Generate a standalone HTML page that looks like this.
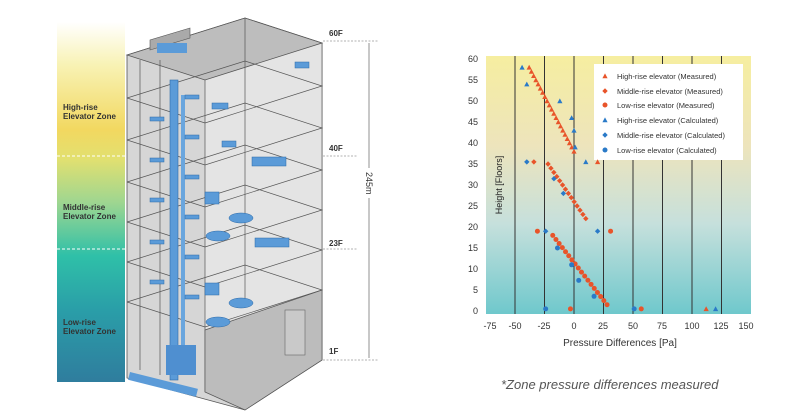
<!DOCTYPE html>
<html><head><meta charset="utf-8"><style>
html,body{margin:0;padding:0;background:#fff;width:800px;height:420px;overflow:hidden;font-family:"Liberation Sans",sans-serif}
</style></head><body>
<svg width="800" height="420" viewBox="0 0 800 420" xmlns="http://www.w3.org/2000/svg" font-family="Liberation Sans, sans-serif">
<defs>
<linearGradient id="zone" x1="0" y1="0" x2="0" y2="1">
<stop offset="0" stop-color="#ffffff"/><stop offset="0.12" stop-color="#f8f2b4"/><stop offset="0.3" stop-color="#f2d860"/>
<stop offset="0.38" stop-color="#e2e070"/><stop offset="0.5" stop-color="#9fd690"/><stop offset="0.65" stop-color="#2fc0a8"/>
<stop offset="0.8" stop-color="#2a9ea8"/><stop offset="1" stop-color="#2f7d9e"/></linearGradient>
<linearGradient id="plot" x1="0" y1="0" x2="0" y2="1">
<stop offset="0" stop-color="#f6eea0"/><stop offset="0.35" stop-color="#ede4bc"/><stop offset="0.65" stop-color="#c6e0dc"/><stop offset="1" stop-color="#6fc8cc"/></linearGradient>
</defs>
<rect x="57" y="22" width="68" height="360" fill="url(#zone)"/>
<line x1="57" y1="156" x2="125" y2="156" stroke="#fff" stroke-dasharray="3,2"/>
<line x1="57" y1="249" x2="125" y2="249" stroke="#fff" stroke-dasharray="3,2"/>
<g font-size="8" font-weight="bold" fill="#333">
<text x="63" y="110">High-rise</text><text x="63" y="119">Elevator Zone</text>
<text x="63" y="210">Middle-rise</text><text x="63" y="219">Elevator Zone</text>
<text x="63" y="325">Low-rise</text><text x="63" y="334">Elevator Zone</text></g>
<polygon points="127,55 245,18 322,43 322,360 245,410 127,378" fill="#d6d6d6" stroke="#555" stroke-width="0.8"/>
<polygon points="205,80 322,43 322,360 205,392" fill="#e4e4e4"/>
<polygon points="127,55 245,18 322,43 205,80" fill="#bdbdbd" stroke="#555" stroke-width="0.8"/>
<polygon points="150,50 190,38 190,28 150,40" fill="#aaa" stroke="#555" stroke-width="0.6"/>
<rect x="157" y="43" width="30" height="10" fill="#5b9bd8"/>
<g fill="none" stroke="#555" stroke-width="0.7">
<polyline points="127,98 245,61 322,86 205,123 127,98"/>
<polyline points="127,140 245,103 322,128 205,165 127,140"/>
<polyline points="127,182 245,145 322,170 205,207 127,182"/>
<polyline points="127,222 245,185 322,210 205,247 127,222"/>
<polyline points="127,262 245,225 322,250 205,287 127,262"/>
<polyline points="127,302 245,265 322,290 205,327 127,302"/>
<line x1="205" y1="80" x2="205" y2="392"/><line x1="245" y1="18" x2="245" y2="300"/>
<line x1="322" y1="43" x2="322" y2="360"/><line x1="140" y1="60" x2="140" y2="370"/><line x1="160" y1="60" x2="160" y2="375"/>
</g>
<polygon points="205,330 322,290 322,360 245,410 205,392" fill="#bcbcbc" stroke="#555" stroke-width="0.7"/>
<rect x="285" y="310" width="20" height="45" fill="#c9c9c9" stroke="#666" stroke-width="0.6"/>
<rect x="170" y="80" width="8" height="300" fill="#5b9bd8" stroke="#2d6aa8" stroke-width="0.6"/>
<rect x="181" y="95" width="4" height="275" fill="#6aa6de"/>
<rect x="166" y="345" width="30" height="30" fill="#4f8fd0"/>
<rect x="130" y="372" width="70" height="8" fill="#5b9bd8" transform="rotate(14 130 372)"/>
<g fill="#5b9bd8" stroke="#2d6aa8" stroke-width="0.5">
<rect x="185" y="95" width="14" height="4"/><rect x="185" y="135" width="14" height="4"/><rect x="185" y="175" width="14" height="4"/>
<rect x="185" y="215" width="14" height="4"/><rect x="185" y="255" width="14" height="4"/><rect x="185" y="295" width="14" height="4"/>
<rect x="150" y="117" width="14" height="4"/><rect x="150" y="158" width="14" height="4"/><rect x="150" y="198" width="14" height="4"/>
<rect x="150" y="240" width="14" height="4"/><rect x="150" y="280" width="14" height="4"/>
<rect x="295" y="62" width="14" height="6"/><rect x="212" y="103" width="16" height="6"/><rect x="222" y="141" width="14" height="6"/>
<rect x="252" y="157" width="34" height="9"/><rect x="255" y="238" width="34" height="9"/>
<rect x="205" y="192" width="14" height="12"/><rect x="205" y="283" width="14" height="12"/>
<ellipse cx="241" cy="218" rx="12" ry="5"/><ellipse cx="218" cy="236" rx="12" ry="5"/>
<ellipse cx="241" cy="303" rx="12" ry="5"/><ellipse cx="218" cy="322" rx="12" ry="5"/>
</g>
<g font-size="8" font-weight="bold" fill="#333">
<text x="329" y="36">60F</text><text x="329" y="151">40F</text><text x="329" y="246">23F</text><text x="329" y="354">1F</text></g>
<g stroke="#999" stroke-dasharray="2,1.5" stroke-width="0.8">
<line x1="323" y1="41" x2="378" y2="41"/><line x1="323" y1="156" x2="358" y2="156"/><line x1="323" y1="249" x2="358" y2="249"/><line x1="323" y1="360" x2="378" y2="360"/></g>
<line x1="369" y1="43" x2="369" y2="358" stroke="#777" stroke-width="0.8"/>
<rect x="364" y="168" width="10" height="30" fill="#fff"/>
<text transform="translate(366,172) rotate(90)" font-size="9" fill="#333">245m</text>
<rect x="486" y="56" width="265" height="258" fill="url(#plot)"/>
<g stroke="#333" stroke-width="1">
<line x1="515" y1="56" x2="515" y2="314"/><line x1="544.5" y1="56" x2="544.5" y2="314"/><line x1="574" y1="56" x2="574" y2="314"/>
<line x1="603.5" y1="56" x2="603.5" y2="314"/><line x1="633" y1="56" x2="633" y2="314"/><line x1="662.5" y1="56" x2="662.5" y2="314"/>
<line x1="692" y1="56" x2="692" y2="314"/><line x1="721.5" y1="56" x2="721.5" y2="314"/></g>
<g font-size="9" fill="#333" text-anchor="end">
<text x="478" y="314">0</text><text x="478" y="293">5</text><text x="478" y="272">10</text><text x="478" y="251">15</text>
<text x="478" y="230">20</text><text x="478" y="209">25</text><text x="478" y="188">30</text><text x="478" y="167">35</text>
<text x="478" y="146">40</text><text x="478" y="125">45</text><text x="478" y="104">50</text><text x="478" y="83">55</text><text x="478" y="62">60</text></g>
<g font-size="9" fill="#333" text-anchor="middle">
<text x="490" y="329">-75</text><text x="515" y="329">-50</text><text x="544" y="329">-25</text><text x="574" y="329">0</text>
<text x="603" y="329">25</text><text x="633" y="329">50</text><text x="662" y="329">75</text><text x="692" y="329">100</text>
<text x="721" y="329">125</text><text x="746" y="329">150</text>
<text x="620" y="346" font-size="10">Pressure Differences [Pa]</text></g>
<text transform="translate(502,185) rotate(-90)" font-size="9" fill="#222" text-anchor="middle">Height [Floors]</text>
<rect x="594" y="64" width="149" height="96" fill="#fff"/>
<g font-size="7.5" fill="#333">
<text x="617" y="79">High-rise elevator  (Measured)</text>
<text x="617" y="94">Middle-rise elevator (Measured)</text>
<text x="617" y="108">Low-rise elevator (Measured)</text>
<text x="617" y="123">High-rise elevator  (Calculated)</text>
<text x="617" y="138">Middle-rise elevator (Calculated)</text>
<text x="617" y="153">Low-rise elevator (Calculated)</text></g>
<g id="pts"></g>
<text x="501" y="389" font-size="13" font-style="italic" fill="#555">*Zone pressure differences measured</text>
</svg>
<script>
var g=document.getElementById('pts'),O='#e8542a',B='#2a7ac8';
function X(p){return 574+p*1.18}function Y(f){return 311-f*4.2}
function m(t,x,y,c){var e;if(t=='t'){e=document.createElementNS('http://www.w3.org/2000/svg','polygon');e.setAttribute('points',(x-2.6)+','+(y+2.2)+' '+(x+2.6)+','+(y+2.2)+' '+x+','+(y-2.6))}
else if(t=='d'){e=document.createElementNS('http://www.w3.org/2000/svg','polygon');e.setAttribute('points',x+','+(y-2.7)+' '+(x+2.7)+','+y+' '+x+','+(y+2.7)+' '+(x-2.7)+','+y)}
else{e=document.createElementNS('http://www.w3.org/2000/svg','circle');e.setAttribute('cx',x);e.setAttribute('cy',y);e.setAttribute('r',2.5)}
e.setAttribute('fill',c);g.appendChild(e)}
function P(t,p,f,c){m(t,X(p),Y(f),c)}
var i;for(i=0;i<21;i++)P('t',-38+i*1.9,58-i,O);
for(i=0;i<14;i++)P('d',-22+i*32/13,35-i,O);
for(i=0;i<18;i++)P('c',-18+i*46/17,18-i*16.5/17,O);
P('t',20,35.5,O);P('t',112,0.5,O);P('d',-34,35.5,O);
P('c',-31,19,O);P('c',31,19,O);P('c',-3,0.5,O);P('c',57,0.5,O);
[[-44,58],[-40,54],[-12,50],[-2,46],[0,43],[1,39],[10,35.5],[120,0.5]].forEach(function(a){P('t',a[0],a[1],B)});
[[-40,35.5],[-17,31.5],[-9,28],[20,19],[-24,19]].forEach(function(a){P('d',a[0],a[1],B)});
[[-14,15],[-2,11],[4,7.3],[17,3.5],[-24,0.5],[51,0.5]].forEach(function(a){P('c',a[0],a[1],B)});
m('t',605,76,O);m('d',605,91,O);m('c',605,105,O);m('t',605,120,B);m('d',605,135,B);m('c',605,150,B);
</script>
</body></html>
